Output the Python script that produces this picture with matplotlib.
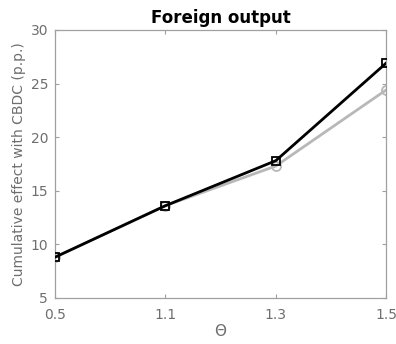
import matplotlib
matplotlib.use("Agg")
import matplotlib.pyplot as plt

theta_labels = ["0.5", "1.1", "1.3", "1.5"]
effect_black = [8.8, 13.6, 17.8, 26.9]
effect_gray = [8.8, 13.6, 17.3, 24.4]

fig = plt.figure(figsize=(3.96, 3.44), dpi=100)
ax = fig.add_axes([0.139, 0.134, 0.836, 0.779])

x = list(range(len(theta_labels)))
ax.plot(x, effect_gray, color="#b8b8b8", linewidth=2, marker="o", markersize=6.5,
        markerfacecolor="none", markeredgewidth=1.3, zorder=2)
ax.plot(x, effect_black, color="black", linewidth=2, marker="s", markersize=5.5,
        markerfacecolor="none", markeredgewidth=1.3, zorder=3)

ax.set_xlim(0, 3)
ax.set_ylim(5, 30)
ax.set_xticks(x)
ax.set_xticklabels(theta_labels)
ax.set_yticks([5, 10, 15, 20, 25, 30])

grey = "#6e6e6e"
for s in ax.spines.values():
    s.set_color("#a0a0a0")
    s.set_linewidth(0.9)
ax.tick_params(direction="in", top=True, right=True, length=3, colors="#a0a0a0",
               labelcolor=grey, labelsize=10)
ax.tick_params(axis="x", pad=7)
ax.tick_params(axis="y", pad=5)

ax.set_title("Foreign output", fontsize=12, fontweight="bold", pad=5)
ax.set_xlabel("\u0398", fontsize=11, color=grey, labelpad=2)
ax.set_ylabel("Cumulative effect with CBDC (p.p.)", fontsize=10, color=grey, labelpad=3)

fig.savefig("out.png", dpi=100)
